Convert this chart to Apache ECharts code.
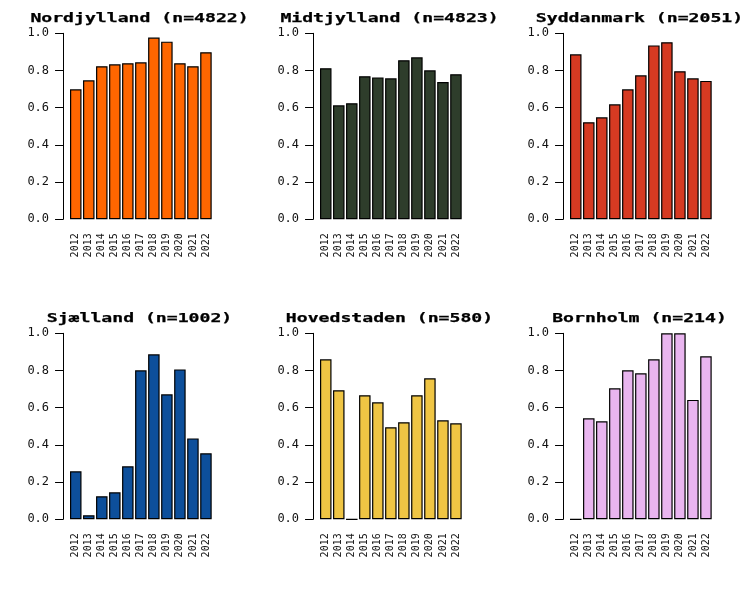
<!DOCTYPE html>
<html>
<head>
<meta charset="utf-8">
<script src="https://cdn.jsdelivr.net/npm/echarts@6/dist/echarts.min.js"></script>
<style>html,body{margin:0;padding:0;background:#fff;}#c{width:750px;height:600px;}</style>
</head>
<body>
<div id="c"></div>
<script>
const years = ['2012','2013','2014','2015','2016','2017','2018','2019','2020','2021','2022'];
const titles = ['Nordjylland (n=4822)','Midtjylland (n=4823)','Syddanmark (n=2051)','Sjælland (n=1002)','Hovedstaden (n=580)','Bornholm (n=214)'];
const colors = ['#FF6600','#2E3D2B','#D63A22','#0D4F9B','#EFC544','#E9B5EF'];
const nordjylland = [0.699,0.747,0.823,0.833,0.839,0.844,0.977,0.955,0.839,0.823,0.898];
const midtjylland = [0.812,0.613,0.624,0.769,0.763,0.758,0.855,0.871,0.801,0.738,0.780];
const syddanmark = [0.887,0.522,0.548,0.618,0.699,0.774,0.935,0.952,0.796,0.758,0.744];
const sjaelland = [0.258,0.022,0.124,0.145,0.285,0.801,0.887,0.672,0.806,0.435,0.355];
const hovedstaden = [0.860,0.694,0,0.667,0.629,0.495,0.522,0.667,0.758,0.532,0.516];
const bornholm = [0,0.543,0.527,0.704,0.801,0.785,0.860,1.0,1.0,0.642,0.876];
const yTicks = [0,0.2,0.4,0.6,0.8,1.0];

const allSeries = [nordjylland, midtjylland, syddanmark, sjaelland, hovedstaden, bornholm];
const grids = [], xAxes = [], yAxes = [], series = [], graphics = [];
allSeries.forEach((vals, i) => {
  const c = i % 3, r = Math.floor(i / 3);
  grids.push({left: 69.25 + 250*c, top: 33.3 + 300*r, width: 143.2, height: 186, containLabel: false});
  xAxes.push({
    type: 'category', gridIndex: i, data: years, boundaryGap: true,
    axisLine: {show: false}, axisTick: {show: false}, splitLine: {show: false},
    axisLabel: {rotate: 90, fontSize: 10, fontFamily: 'DejaVu Sans Mono', color: '#111', margin: 14, interval: 0}
  });
  yAxes.push({
    type: 'value', gridIndex: i, min: yTicks[0], max: yTicks[yTicks.length-1], interval: 0.2,
    offset: 6.2,
    axisLine: {show: true, lineStyle: {color: '#000', width: 1}},
    axisTick: {show: true, length: 8, lineStyle: {color: '#000', width: 1}},
    splitLine: {show: false},
    axisLabel: {fontSize: 12, fontFamily: 'DejaVu Sans Mono', color: '#111', margin: 14,
      formatter: v => v.toFixed(1)}
  });
  series.push({
    type: 'bar', xAxisIndex: i, yAxisIndex: i, data: vals,
    barWidth: 11.5,
    itemStyle: {color: colors[i], borderColor: '#000', borderWidth: 1.2},
    silent: true, animation: false
  });
  graphics.push({
    type: 'text', x: 139.5 + 250*c, y: 18.3 + 300*r, scaleX: 1.45, scaleY: 1,
    style: {text: titles[i], font: 'bold 12.5px "DejaVu Sans Mono"', fill: '#000',
      stroke: '#000', lineWidth: 0.25,
      textAlign: 'center', textVerticalAlign: 'middle'}
  });
});

const chart = echarts.init(document.getElementById('c'));
chart.setOption({
  backgroundColor: '#fff',
  animation: false,
  grid: grids, xAxis: xAxes, yAxis: yAxes, series: series,
  graphic: graphics
});
</script>
</body>
</html>
